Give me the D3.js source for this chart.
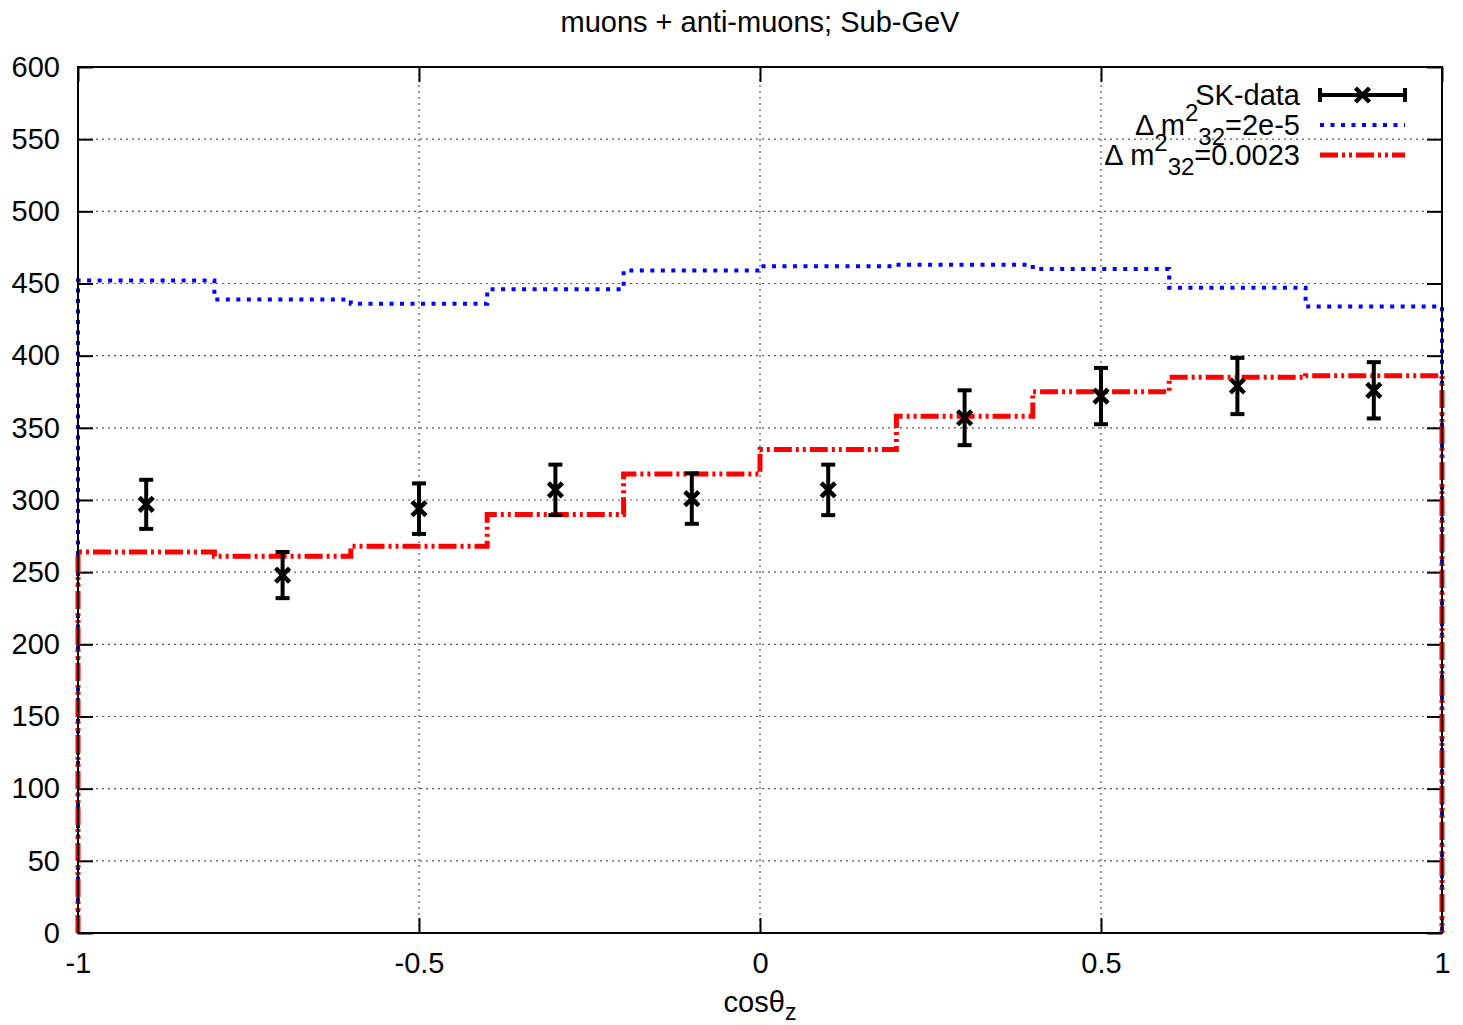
<!DOCTYPE html>
<html>
<head>
<meta charset="utf-8">
<script src="https://cdn.jsdelivr.net/npm/d3@7"></script>
<style>
  body { margin: 0; background: #fff; }
  text { font-family: "Liberation Sans", Arial, sans-serif; fill: #000; }
</style>
</head>
<body>
<div id="chart"></div>
<script>
// data
var binEdges = [-1, -0.8, -0.6, -0.4, -0.2, 0, 0.2, 0.4, 0.6, 0.8, 1];
var binCenters = [-0.9, -0.7, -0.5, -0.3, -0.1, 0.1, 0.3, 0.5, 0.7, 0.9];
var skData = [297, 248, 294, 307, 301, 307, 357, 372, 379, 376];
var skErr = [17, 16, 17.5, 17.5, 17.5, 17.5, 19, 19.5, 19.5, 19.5];
var noOsc = [452, 439, 436, 446, 459, 462, 463, 460, 447, 434];
var osc = [264, 261, 268, 290, 318, 335, 358, 375, 385, 386];
var xTicks = [-1, -0.5, 0, 0.5, 1];
var yTicks = d3.range(0, 601, 50);

var width = 1463, height = 1025;
var margin = {top: 67, right: 21, bottom: 92, left: 78};
var fs = '29px';

var x = d3.scaleLinear().domain([-1, 1]).range([margin.left, width - margin.right]);
var y = d3.scaleLinear().domain([0, 600]).range([height - margin.bottom, margin.top]);

var svg = d3.select('#chart').append('svg')
    .attr('width', width)
    .attr('height', height);

// grid
svg.append('g').selectAll('line.gy')
  .data(yTicks.filter(d => d > 0 && d < 600))
  .join('line')
    .attr('x1', x(-1)).attr('x2', x(1))
    .attr('y1', d => y(d)).attr('y2', d => y(d))
    .attr('stroke', '#555').attr('stroke-width', 1.2)
    .attr('stroke-dasharray', '2,4');
svg.append('g').selectAll('line.gx')
  .data(xTicks.filter(d => d > -1 && d < 1))
  .join('line')
    .attr('x1', d => x(d)).attr('x2', d => x(d))
    .attr('y1', y(0)).attr('y2', y(600))
    .attr('stroke', '#555').attr('stroke-width', 1.2)
    .attr('stroke-dasharray', '2,4');

// axes (ticks inward, mirrored)
var tickLen = 15;
function styleAxis(g) {
  g.select('.domain').remove();
  g.selectAll('.tick line').attr('stroke', '#000').attr('stroke-width', 2);
  g.selectAll('.tick text').style('font-size', fs)
    .style('font-family', '"Liberation Sans", Arial, sans-serif');
}
svg.append('g')
    .attr('transform', `translate(${x(-1)},0)`)
    .call(d3.axisLeft(y).tickValues(yTicks).tickSizeInner(-tickLen).tickSizeOuter(0).tickPadding(18))
    .call(styleAxis);
svg.append('g')
    .attr('transform', `translate(${x(1)},0)`)
    .call(d3.axisRight(y).tickValues(yTicks).tickSizeInner(-tickLen).tickSizeOuter(0).tickFormat(''))
    .call(styleAxis);
svg.append('g')
    .attr('transform', `translate(0,${y(0)})`)
    .call(d3.axisBottom(x).tickValues(xTicks).tickSizeInner(-tickLen).tickSizeOuter(0).tickPadding(19)
      .tickFormat(d => d3.format('')(d).replace('−', '-')))
    .call(styleAxis);
svg.append('g')
    .attr('transform', `translate(0,${y(600)})`)
    .call(d3.axisTop(x).tickValues(xTicks).tickSizeInner(-tickLen).tickSizeOuter(0).tickFormat(''))
    .call(styleAxis);

// histograms
function stepPath(vals) {
  var pts = [[binEdges[0], 0]];
  vals.forEach(function(v, i) {
    pts.push([binEdges[i], v]);
    pts.push([binEdges[i + 1], v]);
  });
  pts.push([binEdges[binEdges.length - 1], 0]);
  return d3.line().x(d => x(d[0])).y(d => y(d[1]))(pts);
}

var blueDash = '4,6.5';
svg.append('path')
    .attr('d', stepPath(noOsc))
    .attr('fill', 'none')
    .attr('stroke', '#0000ff')
    .attr('stroke-width', 4)
    .attr('stroke-dasharray', blueDash);

var redDash = '18,4,3,4,3,4';
svg.append('path')
    .attr('d', stepPath(osc))
    .attr('fill', 'none')
    .attr('stroke', '#ff0000')
    .attr('stroke-width', 5)
    .attr('stroke-dasharray', redDash);

// data points with error bars
var pts = svg.append('g').selectAll('g')
  .data(binCenters.map((c, i) => ({x: c, y: skData[i], e: skErr[i]})))
  .join('g')
    .attr('stroke', '#000')
    .attr('stroke-width', 4)
    .attr('fill', 'none');
pts.append('line')
    .attr('x1', d => x(d.x)).attr('x2', d => x(d.x))
    .attr('y1', d => y(d.y - d.e)).attr('y2', d => y(d.y + d.e));
pts.append('line')
    .attr('x1', d => x(d.x) - 7).attr('x2', d => x(d.x) + 7)
    .attr('y1', d => y(d.y + d.e)).attr('y2', d => y(d.y + d.e));
pts.append('line')
    .attr('x1', d => x(d.x) - 7).attr('x2', d => x(d.x) + 7)
    .attr('y1', d => y(d.y - d.e)).attr('y2', d => y(d.y - d.e));
pts.append('path')
    .attr('d', d => {
      var cx = x(d.x), cy = y(d.y), s = 7;
      return `M${cx - s},${cy - s}L${cx + s},${cy + s}M${cx - s},${cy + s}L${cx + s},${cy - s}`;
    })
    .attr('stroke-width', 4.5);

// frame
svg.append('rect')
    .attr('x', x(-1)).attr('y', y(600))
    .attr('width', x(1) - x(-1)).attr('height', y(0) - y(600))
    .attr('fill', 'none').attr('stroke', '#000').attr('stroke-width', 2);

// title and axis label
svg.append('text')
    .attr('x', (x(-1) + x(1)) / 2).attr('y', 32)
    .attr('text-anchor', 'middle')
    .style('font-size', fs)
    .text('muons + anti-muons; Sub-GeV');

var xl = svg.append('text')
    .attr('x', (x(-1) + x(1)) / 2).attr('y', 1012)
    .attr('text-anchor', 'middle')
    .style('font-size', fs);
xl.append('tspan').text('cosθ');
xl.append('tspan').attr('dy', 8).style('font-size', '23px').text('z');

// legend
var legX = 1300, lineX1 = 1320, lineX2 = 1405;
var legRows = [95, 125, 155];

svg.append('text').attr('x', legX).attr('y', legRows[0] + 10)
    .attr('text-anchor', 'end').style('font-size', fs).text('SK-data');
var lg = svg.append('g').attr('stroke', '#000').attr('stroke-width', 4);
lg.append('line').attr('x1', lineX1).attr('x2', lineX2).attr('y1', legRows[0]).attr('y2', legRows[0]);
lg.append('line').attr('x1', lineX1).attr('x2', lineX1).attr('y1', legRows[0] - 7).attr('y2', legRows[0] + 7);
lg.append('line').attr('x1', lineX2).attr('x2', lineX2).attr('y1', legRows[0] - 7).attr('y2', legRows[0] + 7);
var mx = (lineX1 + lineX2) / 2, my = legRows[0];
lg.append('path').attr('stroke-width', 4.5).attr('fill', 'none')
  .attr('d', `M${mx - 7},${my - 7}L${mx + 7},${my + 7}M${mx - 7},${my + 7}L${mx + 7},${my - 7}`);

function dmLabel(row, val) {
  var t = svg.append('text').attr('x', legX).attr('y', row + 10)
      .attr('text-anchor', 'end').style('font-size', fs);
  t.append('tspan').text('Δ m');
  t.append('tspan').attr('dy', -14).style('font-size', '24px').text('2');
  t.append('tspan').attr('dy', 24).style('font-size', '24px').text('32');
  t.append('tspan').attr('dy', -10).text('=' + val);
}
dmLabel(legRows[1], '2e-5');
dmLabel(legRows[2], '0.0023');

svg.append('line').attr('x1', lineX1).attr('x2', lineX2)
    .attr('y1', legRows[1]).attr('y2', legRows[1])
    .attr('stroke', '#0000ff').attr('stroke-width', 4).attr('stroke-dasharray', blueDash);
svg.append('line').attr('x1', lineX1).attr('x2', lineX2)
    .attr('y1', legRows[2]).attr('y2', legRows[2])
    .attr('stroke', '#ff0000').attr('stroke-width', 5).attr('stroke-dasharray', redDash);
</script>
</body>
</html>
